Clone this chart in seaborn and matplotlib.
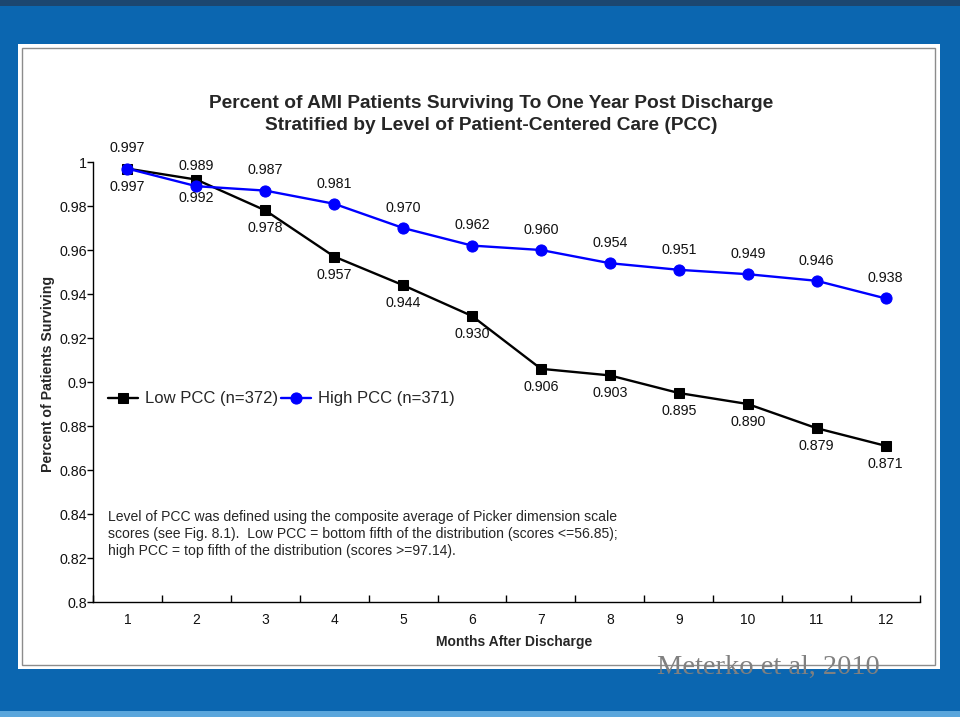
import matplotlib
matplotlib.use('Agg')
import matplotlib.pyplot as plt
import seaborn as sns
from matplotlib.patches import Rectangle
from matplotlib.ticker import FixedLocator

months = list(range(1, 13))
low_pcc = [0.997, 0.992, 0.978, 0.957, 0.944, 0.930, 0.906, 0.903, 0.895, 0.890, 0.879, 0.871]
high_pcc = [0.997, 0.989, 0.987, 0.981, 0.970, 0.962, 0.960, 0.954, 0.951, 0.949, 0.946, 0.938]
ytick_values = [0.8, 0.82, 0.84, 0.86, 0.88, 0.9, 0.92, 0.94, 0.96, 0.98, 1.0]
ytick_labels = ['0.8', '0.82', '0.84', '0.86', '0.88', '0.9', '0.92', '0.94', '0.96', '0.98', '1']
low_label = 'Low PCC (n=372)'
high_label = 'High PCC (n=371)'
title = 'Percent of AMI Patients Surviving To One Year Post Discharge\nStratified by Level of Patient-Centered Care (PCC)'
note = ('Level of PCC was defined using the composite average of Picker dimension scale\n'
        'scores (see Fig. 8.1).  Low PCC = bottom fifth of the distribution (scores <=56.85);\n'
        'high PCC = top fifth of the distribution (scores >=97.14).')
credit = 'Meterko et al, 2010'

sns.set_theme(style='white')
plt.rcParams['font.family'] = ['Liberation Sans', 'DejaVu Sans']

W, H = 960, 717
fig = plt.figure(figsize=(9.6, 7.17), dpi=100)
fig.patch.set_facecolor('#0b66b0')

def fx(px):
    return px / W

def fy(py):
    return 1 - py / H

# slide decoration
fig.add_artist(Rectangle((0, fy(6)), 1, 6 / H, transform=fig.transFigure,
                         facecolor='#1c4670', edgecolor='none', zorder=0))
fig.add_artist(Rectangle((0, 0), 1, 6 / H, transform=fig.transFigure,
                         facecolor='#5aa6dc', edgecolor='none', zorder=0))
fig.add_artist(Rectangle((fx(18), fy(669)), (940 - 18) / W, (669 - 44) / H,
                         transform=fig.transFigure, facecolor='white',
                         edgecolor='none', zorder=0))
fig.add_artist(Rectangle((fx(22), fy(665)), (935 - 22) / W, (665 - 48) / H,
                         transform=fig.transFigure, facecolor='none',
                         edgecolor='#8c8c8c', linewidth=1, zorder=1))

ax = fig.add_axes([fx(93), fy(602), (920 - 93) / W, (602 - 162) / H])
ax.set_facecolor('none')

sns.lineplot(x=months, y=low_pcc, ax=ax, color='black', marker='s',
             markersize=7.5, markeredgecolor='black', linewidth=1.7, label=low_label)
sns.lineplot(x=months, y=high_pcc, ax=ax, color='#0000ff', marker='o',
             markersize=8, markeredgecolor='#0000ff', linewidth=1.7, label=high_label)

for m, v in zip(months, high_pcc):
    ax.annotate(f'{v:.3f}', (m, v), xytext=(0, 14.5), textcoords='offset points',
                ha='center', va='center', fontsize=10.3, color='#111111')
for m, v in zip(months, low_pcc):
    ax.annotate(f'{v:.3f}', (m, v), xytext=(0, -13), textcoords='offset points',
                ha='center', va='center', fontsize=10.3, color='#111111')

ax.set_xlim(0.5, 12.5)
ax.set_ylim(0.8, 1.0)
ax.set_xticks(months)
ax.set_xticklabels([str(m) for m in months], fontsize=10)
ax.xaxis.set_minor_locator(FixedLocator([m + 0.5 for m in range(0, 13)]))
ax.tick_params(axis='x', which='major', length=0, pad=8, colors='#111111')
ax.tick_params(axis='x', which='minor', length=5, direction='in', width=1, color='black', bottom=True)
ax.set_yticks(ytick_values)
ax.set_yticklabels(ytick_labels, fontsize=10.3)
ax.tick_params(axis='y', which='major', length=4, direction='out', width=1, color='black',
               labelcolor='#111111', left=True, pad=0.5)

for s in ['top', 'right']:
    ax.spines[s].set_visible(False)
for s in ['left', 'bottom']:
    ax.spines[s].set_color('black')
    ax.spines[s].set_linewidth(1)

ax.set_xlabel('Months After Discharge', fontsize=10, fontweight='bold')
ax.set_ylabel('Percent of Patients Surviving', fontsize=10.2, fontweight='bold')
ax.xaxis.set_label_coords((514 - 93) / 827, (602 - 635) / 440)
ax.yaxis.set_label_coords((55 - 93) / 827, 0.519)

ax.legend(loc='center left', bbox_to_anchor=((108 - 93) / 827, (602 - 399) / 440),
          ncol=2, frameon=False, fontsize=12, handlelength=1.8, handletextpad=0.4,
          columnspacing=0.2, borderpad=0, borderaxespad=0)

fig.text(fx(491), fy(114.5), title, ha='center', va='center', fontsize=13.8,
         fontweight='bold', linespacing=1.32)
fig.text(fx(108), fy(510), note, ha='left', va='top', fontsize=10.1, linespacing=1.28)
fig.text(fx(657), fy(667), credit, ha='left', va='center', fontsize=20.5,
         family=['Liberation Serif', 'DejaVu Serif'], color='#808080')

fig.savefig('out.png', dpi=100, facecolor=fig.get_facecolor())
